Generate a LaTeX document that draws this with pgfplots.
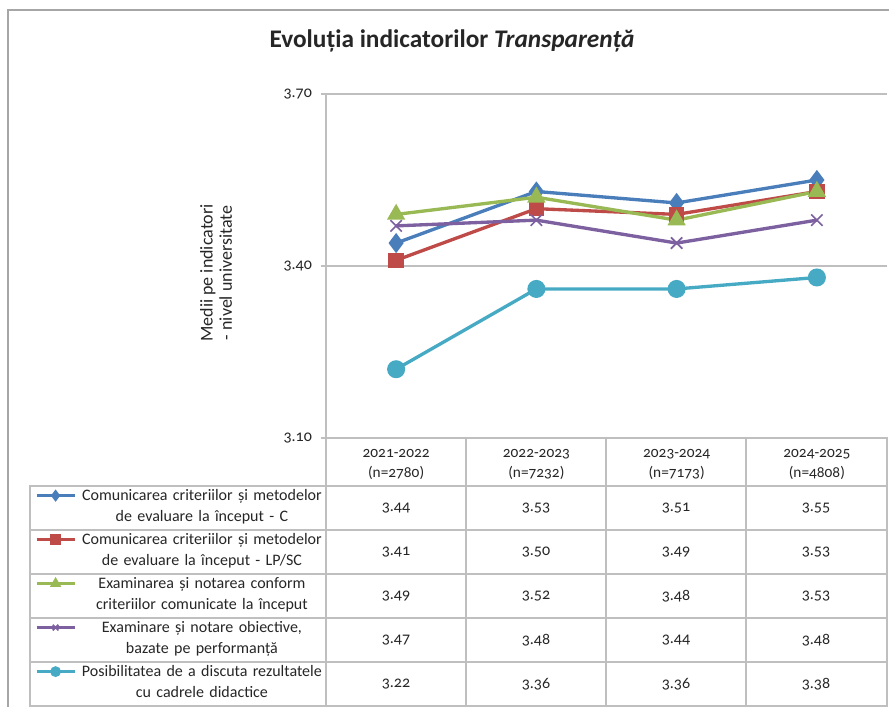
\documentclass[border=0pt]{standalone}
\usepackage{fontspec}
\setmainfont{Carlito}[Numbers=OldStyle]
\usepackage{pgfplots}
\pgfplotsset{compat=1.18}
\definecolor{cBlue}{HTML}{4A7EBB}
\definecolor{cRed}{HTML}{BE4B48}
\definecolor{cGreen}{HTML}{98B954}
\definecolor{cPurple}{HTML}{7D60A0}
\definecolor{cCyan}{HTML}{46AAC5}
\definecolor{tblgray}{HTML}{BFBFBF}
\definecolor{framegray}{HTML}{A6A6A6}
\definecolor{txt}{HTML}{262626}
\begin{document}
\begin{tikzpicture}
\useasboundingbox (0,0) rectangle (666.75pt,-530.25pt);
\begin{axis}[
  at={(244.5pt,-328.5pt)}, anchor=south west,
  scale only axis, width=420.75pt, height=258pt,
  xmin=-0.5, xmax=3.5, ymin=3.1, ymax=3.7,
  axis lines*=left, axis line style={draw=tblgray, line width=1pt},
  ymajorgrids, major grid style={draw=tblgray, line width=1pt},
  xtick={0,1,2,3},
  xticklabels={{2021-2022\\(n=2780)},{2022-2023\\(n=7232)},{2023-2024\\(n=7173)},{2024-2025\\(n=4808)}},
  xticklabel style={align=center, font=\fontsize{11.5}{15}\selectfont, text=txt, yshift=-1pt},
  xtick style={draw=none},
  ytick={3.1,3.4,3.7}, yticklabels={3.10,3.40,3.70},
  yticklabel style={font=\fontsize{12}{14}\selectfont, text=txt, xshift=-3pt},
  ytick style={draw=tblgray, line width=1pt}, tick align=outside, major tick length=4pt,
  ylabel={Medii pe indicatori\\- nivel universitate},
  every axis y label/.style={at={([xshift=-82.5pt]axis description cs:0,0.48)}, rotate=90, anchor=center, align=center, font=\fontsize{13.5}{14.5}\selectfont, text=txt},
  legend style={at={(axis description cs:0,0)}, anchor=north west, xshift=-222pt, yshift=-36pt,
    draw=none, fill=none, inner xsep=3.75pt, inner ysep=0pt, row sep=0pt, column sep=0.5pt,
    cells={anchor=base west},
    nodes={text width=188pt, align=center, text height=10.5pt, text depth=22.5pt, inner sep=0pt, text=txt, font=\fontsize{12}{15.75}\selectfont}},
  legend image code/.code={\draw[line width=2pt, mark repeat=2,mark phase=2,mark size=3pt] plot coordinates {(0pt,3.5pt)(14.25pt,3.5pt)(28.5pt,3.5pt)};},
  every axis plot/.append style={line width=2.5pt},
  clip=false,
]
\addplot[color=cBlue, mark=diamond*, mark size=5.5pt] coordinates {(0,3.44) (1,3.53) (2,3.51) (3,3.55)};
\addlegendentry{Comunicarea criteriilor și metodelor\\de evaluare la început - C}
\addplot[color=cRed, mark=square*, mark size=4.5pt] coordinates {(0,3.41) (1,3.50) (2,3.49) (3,3.53)};
\addlegendentry{Comunicarea criteriilor și metodelor\\de evaluare la început - LP/SC}
\addplot[color=cGreen, mark=triangle*, mark size=5.5pt] coordinates {(0,3.49) (1,3.52) (2,3.48) (3,3.53)};
\addlegendentry{Examinarea și notarea conform\\criteriilor comunicate la început}
\addplot[color=cPurple, mark=x, mark size=6pt, mark options={line width=1.3pt}] coordinates {(0,3.47) (1,3.48) (2,3.44) (3,3.48)};
\addlegendentry{Examinare și notare obiective,\\bazate pe performanță}
\addplot[color=cCyan, mark=*, mark size=5.5pt] coordinates {(0,3.22) (1,3.36) (2,3.36) (3,3.38)};
\addlegendentry{Posibilitatea de a discuta rezultatele\\cu cadrele didactice}
\end{axis}
\begin{scope}[x=0.75pt,y=-0.75pt]
\draw[framegray, line width=1.5pt] (8,707) -- (8,10) -- (889,10);
\draw[tblgray, line width=1pt] (30,486) rectangle (887,706);
\foreach \y in {530,574,618,662} \draw[tblgray,line width=1pt] (30,\y) -- (887,\y);
\draw[tblgray,line width=1pt] (326,438) -- (887,438) -- (887,706);
\foreach \x in {326,466,606,746} \draw[tblgray,line width=1pt] (\x,438) -- (\x,706);
\node[font=\fontsize{19}{22}\selectfont\bfseries, text=txt] at (452,41) {Evoluția indicatorilor \textit{Transparență}};
\begin{scope}[every node/.style={font=\fontsize{12}{14}\selectfont, text=txt}]
\node at (396,508) {3.44}; \node at (536,508) {3.53}; \node at (676,508) {3.51}; \node at (816,508) {3.55};
\node at (396,552) {3.41}; \node at (536,552) {3.50}; \node at (676,552) {3.49}; \node at (816,552) {3.53};
\node at (396,596) {3.49}; \node at (536,596) {3.52}; \node at (676,596) {3.48}; \node at (816,596) {3.53};
\node at (396,640) {3.47}; \node at (536,640) {3.48}; \node at (676,640) {3.44}; \node at (816,640) {3.48};
\node at (396,684) {3.22}; \node at (536,684) {3.36}; \node at (676,684) {3.36}; \node at (816,684) {3.38};
\end{scope}
\end{scope}
\end{tikzpicture}
\end{document}
